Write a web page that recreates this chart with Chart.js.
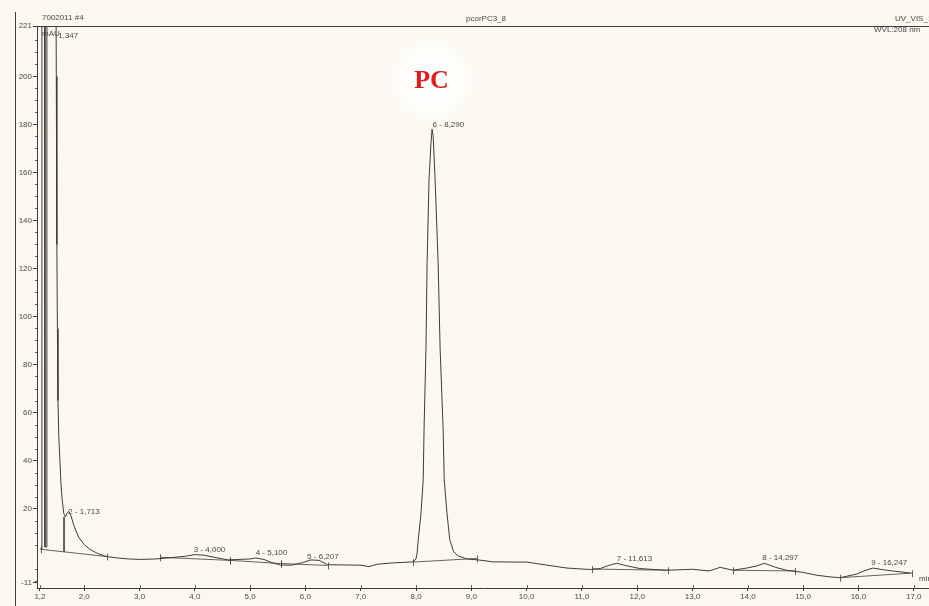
<!DOCTYPE html>
<html>
<head>
<meta charset="utf-8">
<title>pcorPC3_8</title>
<script src="https://cdn.jsdelivr.net/npm/chart.js@4.4.1/dist/chart.umd.min.js"></script>
<style>
  html, body { margin: 0; padding: 0; background: #fbf8ef; }
  canvas { display: block; }
</style>
</head>
<body>
<canvas id="chromChart" width="929" height="606"></canvas>
<script>
// Chromatogram trace (retention time in min, signal in mAU)
const traceTimes = [
  1.20, 1.225, 1.235, 1.28, 1.29, 1.31, 1.325, 1.48, 1.495, 1.505, 1.515, 1.525, 1.54, 1.56, 1.58,
  1.60, 1.63, 1.66, 1.69, 1.72, 1.76, 1.82, 1.90, 2.00, 2.10, 2.25, 2.40, 2.60, 2.80, 3.00,
  3.30, 3.60, 3.85, 4.00, 4.15, 4.35, 4.60, 4.80, 5.00, 5.10, 5.25, 5.40, 5.55, 5.75, 5.95,
  6.10, 6.25, 6.40, 6.70, 7.00, 7.15, 7.30, 7.55, 7.80, 7.95, 8.00, 8.02, 8.04, 8.09, 8.13,
  8.145, 8.18, 8.20, 8.235, 8.27, 8.29, 8.31, 8.345, 8.40, 8.435, 8.49, 8.51, 8.56, 8.61, 8.68,
  8.76, 8.92, 9.16, 9.39, 9.75, 10.00, 10.37, 10.73, 11.15, 11.33, 11.50, 11.63, 11.80, 12.05, 12.30,
  12.54, 13.00, 13.30, 13.50, 13.73, 13.98, 14.15, 14.30, 14.50, 14.70, 15.00, 15.25, 15.50, 15.67, 15.97,
  16.10, 16.26, 16.45, 16.62, 16.95
];
const traceValues = [
  3.2, 3.0, 300, 300, 4, 4, 300, 300, 200, 130, 95, 65, 50, 40, 30,
  24, 18, 16.5, 18, 18.8, 17, 12.5, 8, 5, 3, 1.2, 0, -0.6, -1, -1.2,
  -1, -0.4, 0.2, 0.8, 0.6, -0.3, -1.4, -1.2, -1, -0.6, -1.2, -2.6, -3.5, -3.6, -2.5,
  -1.4, -1.6, -3.4, -3.5, -3.6, -4.2, -3.2, -2.7, -2.4, -2.2, -1, 1.5, 7, 18, 32,
  53, 87, 122, 157, 172, 178, 175, 157, 122, 87, 53, 32, 18, 7, 2,
  0.3, -1, -1.5, -2.2, -2.3, -2.3, -3.6, -4.8, -5.4, -5, -3.6, -2.8, -3.8, -5, -5.4,
  -5.7, -5.3, -6, -4.5, -5.7, -4.8, -4, -2.8, -4.5, -5.7, -6.6, -7.8, -8.5, -8.8, -7.3,
  -6, -4.8, -5.5, -6, -6.9
];

// Integration baselines and drop lines: [start, end]
const baselineTimes = [
  [1.22, 2.41], [1.635, 1.635], [3.37, 4.64], [4.64, 5.55], [5.55, 6.40],
  [7.94, 9.10], [11.18, 12.56], [13.73, 14.85], [15.67, 16.97]
];
const baselineValues = [
  [3.0, 0.0], [16.5, 2.0], [-0.3, -1.6], [-1.6, -2.9], [-2.9, -3.7],
  [-2.3, -0.8], [-5.2, -5.7], [-5.7, -6.0], [-8.8, -6.9]
];

// Peak annotations
const peakLabels = ['1,347', '2 - 1,713', '3 - 4,000', '4 - 5,100', '5 - 6,207', '6 - 8,290', '7 - 11,613', '8 - 14,297', '9 - 16,247'];
const peakLabelTimes = [1.53, 1.71, 3.98, 5.10, 6.03, 8.30, 11.63, 14.26, 16.23];
const peakLabelValues = [216.8, 18.5, 2.7, 1.4, -0.3, 179.8, -1.1, -0.7, -2.8];

// Axis ticks
const xTickValues = [1.2, 2, 3, 4, 5, 6, 7, 8, 9, 10, 11, 12, 13, 14, 15, 16, 17];
const yTickValues = [-11, 20, 40, 60, 80, 100, 120, 140, 160, 180, 200, 221];

const INK = '#3c3c3c';
const TEXT = '#4a4a4a';

// Build chart datasets
function buildTrace() {
    return traceTimes.map((t, i) => ({ x: t, y: traceValues[i] }));
}

function buildBaselines() {
    const pts = [];
    baselineTimes.forEach((seg, i) => {
        pts.push({ x: seg[0], y: baselineValues[i][0] });
        pts.push({ x: seg[1], y: baselineValues[i][1] });
        pts.push({ x: seg[1], y: null });
    });
    return pts;
}

function formatTime(v) {
    return v.toFixed(1).replace('.', ',');
}

// Extra drawing: page frame, header, minor ticks, peak labels
const decorations = {
    id: 'decorations',
    beforeDraw(chart) {
        const ctx = chart.ctx;
        ctx.save();
        ctx.fillStyle = '#fbf8ef';
        ctx.fillRect(0, 0, chart.width, chart.height);

        // soft white halo behind the "PC" note
        const cx = chart.scales.x.getPixelForValue(8.28);
        const cy = chart.scales.y.getPixelForValue(198.5);
        const g = ctx.createRadialGradient(cx, cy, 4, cx, cy, 48);
        g.addColorStop(0, 'rgba(255,255,255,1)');
        g.addColorStop(0.5, 'rgba(255,255,255,0.85)');
        g.addColorStop(1, 'rgba(255,255,255,0)');
        ctx.fillStyle = g;
        ctx.fillRect(cx - 50, cy - 50, 100, 100);
        ctx.restore();
    },
    afterDraw(chart) {
        const ctx = chart.ctx;
        const area = chart.chartArea;
        const xs = chart.scales.x;
        const ys = chart.scales.y;
        ctx.save();

        // page border and top frame
        ctx.strokeStyle = INK;
        ctx.lineWidth = 1;
        ctx.beginPath();
        ctx.moveTo(15.5, 12);
        ctx.lineTo(15.5, chart.height);
        ctx.moveTo(area.left, area.top + 0.5);
        ctx.lineTo(area.right, area.top + 0.5);
        ctx.stroke();

        // minor y ticks every 5 mAU
        ctx.lineWidth = 0.8;
        ctx.beginPath();
        for (let v = -10; v <= 220; v += 5) {
            if (v % 20 === 0) continue;
            const y = Math.round(ys.getPixelForValue(v)) + 0.5;
            ctx.moveTo(area.left - 2, y);
            ctx.lineTo(area.left, y);
        }
        // x ticks crossing the axis upward
        xTickValues.forEach(t => {
            const x = Math.round(xs.getPixelForValue(t)) + 0.5;
            ctx.moveTo(x, area.bottom - 3);
            ctx.lineTo(x, area.bottom);
        });
        // peak delimiters
        baselineTimes.forEach((seg, i) => {
            if (seg[0] === seg[1]) return;
            [0, 1].forEach(k => {
                const x = Math.round(xs.getPixelForValue(seg[k])) + 0.5;
                const y = ys.getPixelForValue(baselineValues[i][k]);
                ctx.moveTo(x, y - 3);
                ctx.lineTo(x, y + 4);
            });
        });
        ctx.stroke();

        // header texts
        ctx.fillStyle = TEXT;
        ctx.font = '8px "Liberation Sans", Arial, sans-serif';
        ctx.textBaseline = 'middle';
        ctx.textAlign = 'left';
        ctx.fillText('7002011 #4', 42, 18);
        ctx.fillText('pcorPC3_8', 466, 19);
        ctx.fillText('UV_VIS_1', 895, 19);
        ctx.fillText('WVL:208 nm', 874, 30);
        ctx.fillText('mAU', 42, 34);
        ctx.fillText('min', 919, 579);

        // peak labels
        peakLabels.forEach((txt, i) => {
            const x = xs.getPixelForValue(peakLabelTimes[i]);
            const y = ys.getPixelForValue(peakLabelValues[i]);
            ctx.fillText(txt, x, y);
        });

        // "PC" annotation
        const pcX = xs.getPixelForValue(8.28);
        const pcY = ys.getPixelForValue(198.5);
        ctx.textAlign = 'center';
        ctx.font = 'bold 26px "Liberation Serif", "DejaVu Serif", serif';
        ctx.fillStyle = '#e01b1b';
        ctx.fillText('PC', pcX, pcY + 1);
        ctx.restore();
    }
};

function initializeChart() {
    const ctx = document.getElementById('chromChart').getContext('2d');
    return new Chart(ctx, {
        type: 'line',
        data: {
            datasets: [{
                label: 'UV_VIS_1',
                data: buildTrace(),
                borderColor: INK,
                borderWidth: 1,
                pointRadius: 0,
                tension: 0
            }, {
                label: 'baseline',
                data: buildBaselines(),
                borderColor: INK,
                borderWidth: 0.8,
                pointRadius: 0,
                spanGaps: false,
                tension: 0
            }]
        },
        options: {
            responsive: false,
            animation: false,
            devicePixelRatio: 1,
            layout: { padding: { top: 26, right: 0, left: 0, bottom: 0 } },
            plugins: {
                legend: { display: false },
                tooltip: { enabled: false }
            },
            scales: {
                x: {
                    type: 'linear',
                    min: 1.146,
                    max: 17.276,
                    afterBuildTicks: scale => {
                        scale.ticks = xTickValues.map(v => ({ value: v }));
                    },
                    afterFit: scale => {
                        scale.height = 18;
                        scale.paddingLeft = 0;
                        scale.paddingRight = 0;
                    },
                    grid: { drawOnChartArea: false, color: INK, tickLength: 3 },
                    border: { color: INK, width: 1 },
                    ticks: {
                        autoSkip: false,
                        maxRotation: 0,
                        padding: 1,
                        color: TEXT,
                        font: { family: '"Liberation Sans", Arial, sans-serif', size: 8 },
                        callback: v => formatTime(v)
                    }
                },
                y: {
                    min: -13.1,
                    max: 221,
                    afterBuildTicks: scale => {
                        scale.ticks = yTickValues.map(v => ({ value: v }));
                    },
                    afterFit: scale => {
                        scale.width = 37;
                        scale.paddingTop = 0;
                        scale.paddingBottom = 0;
                    },
                    grid: { drawOnChartArea: false, color: INK, tickLength: 4 },
                    border: { color: INK, width: 1 },
                    ticks: {
                        autoSkip: false,
                        padding: 1,
                        color: TEXT,
                        font: { family: '"Liberation Sans", Arial, sans-serif', size: 8 },
                        callback: v => String(v)
                    }
                }
            }
        },
        plugins: [decorations]
    });
}

document.addEventListener('DOMContentLoaded', () => {
    initializeChart();
});
</script>
</body>
</html>
